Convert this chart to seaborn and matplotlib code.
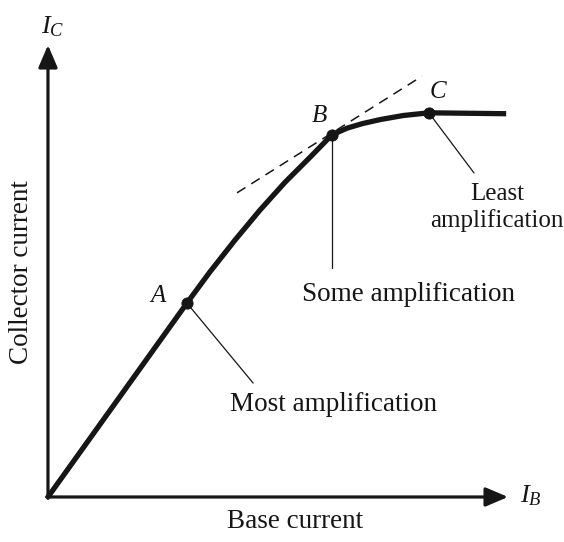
import matplotlib
matplotlib.use("Agg")
import matplotlib.pyplot as plt
import seaborn as sns
import pandas as pd

# Transfer characteristic: collector current vs base current (arbitrary units)
base_current = [0.0, 3.02, 3.52, 4.07, 4.61, 5.15, 5.70, 6.17, 6.50, 6.83,
                7.22, 7.72, 8.28, 9.96]
collector_current = [0.0, 4.29, 4.98, 5.69, 6.35, 6.96, 7.52, 8.01, 8.16, 8.26,
                     8.35, 8.44, 8.50, 8.48]

# Operating points
point_names = ["A", "B", "C"]
point_ib = [3.02, 6.17, 8.28]
point_ic = [4.29, 8.01, 8.50]

# Tangent at B (dashed)
tangent_ib = [4.11, 8.13]
tangent_ic = [6.73, 9.31]

# Callout text
callouts = ["Most amplification", "Some amplification", "Least\namplification"]

sns.set_theme(style="white")
plt.rcParams["font.family"] = ["Liberation Serif", "DejaVu Serif"]
plt.rcParams["mathtext.fontset"] = "custom"
plt.rcParams["mathtext.rm"] = "Liberation Serif"
plt.rcParams["mathtext.it"] = "Liberation Serif:italic"

fig = plt.figure(figsize=(5.64, 5.42), dpi=100)
ax = fig.add_axes([0, 0, 1, 1])
ax.set_xlim(-1.043, 11.217)
ax.set_ylim(-0.996, 10.996)
ax.axis("off")

ink = "#161616"

# Axes with arrowheads
arrow_style = "-|>,head_length=0.68,head_width=0.29"
ax.annotate("", xy=(10.0, 0), xytext=(-0.03, 0),
            arrowprops=dict(arrowstyle=arrow_style, mutation_scale=20, lw=2.3,
                            color=ink, shrinkA=0, shrinkB=0))
ax.annotate("", xy=(0, 10.0), xytext=(0, -0.03),
            arrowprops=dict(arrowstyle=arrow_style, mutation_scale=20, lw=2.3,
                            color=ink, shrinkA=0, shrinkB=0))

# Tangent line at B
ax.plot(tangent_ib, tangent_ic, color=ink, lw=1.1, dashes=(6.5, 4.5))

# Characteristic curve
curve = pd.DataFrame({"IB": base_current, "IC": collector_current})
sns.lineplot(data=curve, x="IB", y="IC", sort=False, ax=ax, color=ink,
             lw=3.8, solid_joinstyle="round", solid_capstyle="butt")

# Operating points
pts = pd.DataFrame({"IB": point_ib, "IC": point_ic, "name": point_names})
sns.scatterplot(data=pts, x="IB", y="IC", ax=ax, color=ink, s=65,
                edgecolor=ink, zorder=5)

# Leader lines from points to callouts
leader_ends = [(4.46, 2.52), (6.17, 5.07), (9.26, 7.17)]
for x0, y0, (x1, y1) in zip(point_ib, point_ic, leader_ends):
    ax.plot([x0, x1], [y0, y1], color=ink, lw=0.9)

fs = 19.5
ax.text(6.20, 2.04, callouts[0], ha="center", va="center", fontsize=fs, color=ink)
ax.text(7.83, 4.47, callouts[1], ha="center", va="center", fontsize=fs, color=ink)
ax.text(9.76, 6.40, callouts[2], ha="center", va="center", fontsize=18,
        color=ink, linespacing=1.22)

# Point labels
label_pos = [(2.39, 4.45), (5.91, 8.43), (8.48, 8.96)]
for name, (lx, ly) in zip(point_names, label_pos):
    ax.text(lx, ly, name, ha="center", va="center", fontsize=18,
            style="italic", color=ink)

# Axis titles
ax.text(-0.57, 4.98, "Collector current", ha="center", va="center",
        rotation=90, fontsize=fs, color=ink)
ax.text(5.37, -0.55, "Base current", ha="center", va="center",
        fontsize=fs, color=ink)
ax.text(0.10, 10.40, r"$I_C$", ha="center", va="center", fontsize=19, color=ink)
ax.text(10.50, 0.02, r"$I_B$", ha="center", va="center", fontsize=19, color=ink)

fig.savefig("out.png", dpi=100)
